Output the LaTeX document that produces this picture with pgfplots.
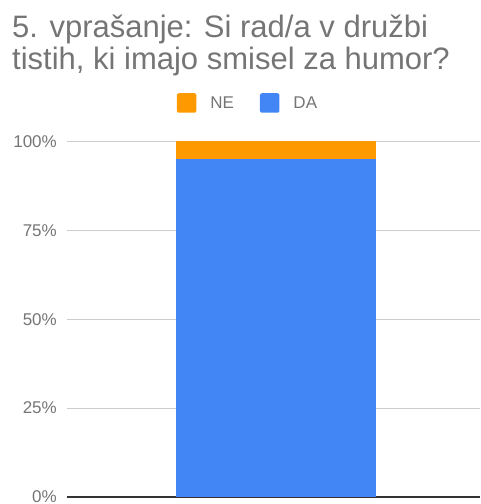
\documentclass[border=0pt]{standalone}
\usepackage{pgfplots}
\pgfplotsset{compat=1.18}
\usepackage{fontspec}
\setmainfont{Liberation Sans}
\definecolor{tgrey}{HTML}{757575}
\definecolor{gridc}{HTML}{CCCCCC}
\definecolor{basec}{HTML}{333333}
\definecolor{cda}{HTML}{4285F4}
\definecolor{cne}{HTML}{FF9900}
\begin{document}
\begin{tikzpicture}
\useasboundingbox (-67pt,-7pt) rectangle (413pt,497pt);
\node[anchor=base west, inner sep=0pt, text=tgrey, font=\fontsize{31}{33}\selectfont] at (-55pt,459pt) {5. vprašanje: Si rad/a v družbi};
\node[anchor=base west, inner sep=0pt, text=tgrey, font=\fontsize{31}{33}\selectfont] at (-55pt,427pt) {tistih, ki imajo smisel za humor?};
\begin{axis}[
  at={(0pt,0pt)}, anchor=south west,
  scale only axis, width=413pt, height=355.5pt,
  xmin=0, xmax=1, ymin=0, ymax=100,
  ybar stacked, bar width=200pt,
  axis line style={draw=none},
  xtick=\empty,
  ytick={25,50,75,100},
  yticklabels={25\%,50\%,75\%,100\%},
  extra y ticks={0}, extra y tick labels={0\%},
  extra y tick style={grid style={color=basec, line width=1.3pt}},
  ymajorgrids, grid style={color=gridc, line width=0.9pt},
  major tick length=0pt,
  /pgf/number format/assume math mode=true,
  tick label style={font=\fontsize{17}{19}\selectfont, text=tgrey},
  yticklabel style={anchor=east, inner sep=0pt, xshift=-10pt},
  clip=false,
  reverse legend,
  legend columns=-1,
  legend style={at={(0.4358,1.1083)}, anchor=center, draw=none, fill=none,
    font=\fontsize{17}{19}\selectfont, text=tgrey,
    /tikz/every even column/.append style={column sep=26pt},
    /tikz/every odd column/.append style={column sep=0pt},
    nodes={inner sep=0pt}},
  legend image code/.code={\fill[#1, rounded corners=2pt] (0pt,-9.75pt) rectangle (19.5pt,9.75pt); \path (33.5pt,0pt);},
]
\addplot[fill=cda, draw=none] coordinates {(0.506,95.2)};
\addplot[fill=cne, draw=none] coordinates {(0.506,4.8)};
\legend{DA,NE}
\end{axis}
\end{tikzpicture}
\end{document}
